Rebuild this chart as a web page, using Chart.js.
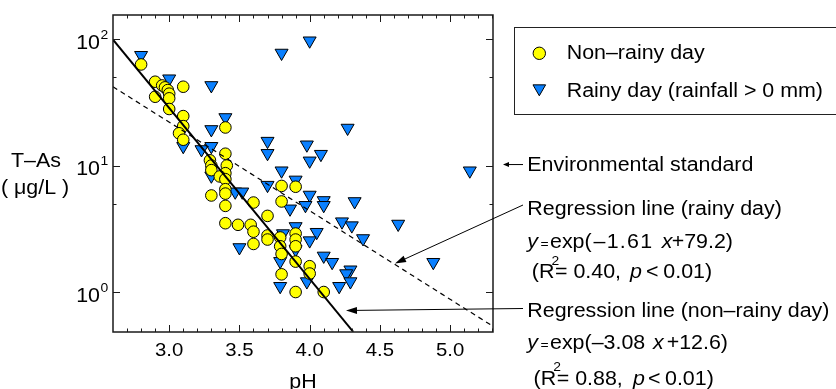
<!DOCTYPE html>
<html><head><meta charset="utf-8">
<script src="https://cdn.jsdelivr.net/npm/chart.js@4/dist/chart.umd.min.js"></script>
<style>html,body{margin:0;padding:0;background:#fff;overflow:hidden;}</style>
</head><body>
<canvas id="c" width="836" height="389"></canvas>
<script>
// ---- data ----
const nonRainyPH = [2.80,2.90,2.95,2.97,2.99,3.00,2.90,3.00,3.10,3.00,3.10,3.10,3.07,3.10,3.40,3.40,3.29,3.30,3.30,3.41,3.40,3.36,3.40,3.40,3.40,3.30,3.40,3.60,3.80,3.90,3.80,3.70,3.40,3.49,3.58,3.60,3.60,3.70,3.70,3.79,3.79,3.80,3.90,3.90,3.90,3.90,3.80,4.00,4.00,3.90,4.10];
const nonRainyAs = [63,46,43,41.5,39.5,37,35,34,42,28,24.6,20.5,18,16,20,12.4,11.0,10.0,9.2,10.0,8.7,8.2,7.8,6.5,6.0,5.8,4.8,5.1,6.9,6.8,5.2,4.0,3.5,3.4,3.4,3.0,2.4,2.8,2.6,2.7,2.3,2.0,2.9,2.6,2.3,1.74,1.38,1.6,1.4,1.0,1.0];
const rainyPH = [2.80,3.00,3.30,3.80,4.00,3.40,3.30,3.70,3.70,3.10,3.23,3.30,3.98,4.08,4.00,4.27,5.14,3.80,3.90,3.70,3.30,3.47,3.52,3.86,4.00,3.97,4.10,4.10,4.32,4.23,4.30,4.63,4.38,4.05,4.00,3.90,3.81,3.50,3.90,3.79,4.10,4.16,4.29,4.26,4.29,4.21,3.98,3.79,4.88];
const rainyAs = [74.5,48.6,43,77.6,97,24,19.3,15.6,12.5,14.2,13.4,14.2,14.6,12.3,10.9,19.8,9.1,9.1,7.7,7.0,8.3,6.2,6.2,4.55,5.85,4.85,5.3,4.85,5.2,3.6,3.35,3.45,2.65,2.97,2.55,3.3,2.9,2.25,2.17,1.75,1.93,1.72,1.5,1.4,1.21,1.11,1.21,1.11,1.72];
const regNonRainyPH = [2.60, 4.31];
const regNonRainyAs = [99, 0.485];
const regRainyPH = [2.60, 5.30];
const regRainyAs = [42, 0.54];
const envStandard = 10;
const seriesLabels = ['Non\u2013rainy day', 'Rainy day (rainfall > 0 mm)'];
const xTickValues = [3.0, 3.5, 4.0, 4.5, 5.0];
const xTickLabels = ['3.0', '3.5', '4.0', '4.5', '5.0'];
const xMinorTicks = [2.7,2.8,2.9,3.1,3.2,3.3,3.4,3.6,3.7,3.8,3.9,4.1,4.2,4.3,4.4,4.6,4.7,4.8,4.9,5.1,5.2,5.3];
const yTickValues = [1, 10, 100];
const yTickExponents = ['0', '1', '2'];
const yMinorTicks = [5, 50];
const xTitle = 'pH';
const yTitle = ['T\u2013As', '( \u03bcg/L )'];

// ---- styles ----
const FONT = '"Liberation Sans", Arial, Helvetica, sans-serif';
const SX = 1.07;
const YELLOW = '#ffff00';
const BLUE = '#0a80ff';

function T(ctx, s, x, y, size, opt) {
  opt = opt || {};
  ctx.save();
  ctx.font = (opt.italic ? 'italic ' : '') + size + 'px ' + FONT;
  ctx.fillStyle = '#000';
  ctx.textBaseline = 'alphabetic';
  ctx.textAlign = 'left';
  if (opt.ls) ctx.letterSpacing = opt.ls + 'px';
  const sx = opt.sx === undefined ? SX : opt.sx;
  const w = ctx.measureText(s).width * sx;
  let x0 = x;
  if (opt.align === 'center') x0 = x - w / 2;
  else if (opt.align === 'right') x0 = x - w;
  ctx.translate(x0, y);
  ctx.scale(sx, 1);
  ctx.fillText(s, 0, 0);
  ctx.restore();
  return x0 + w;
}
function arrow(ctx, x1, y1, x2, y2, hl, hw) {
  const a = Math.atan2(y2 - y1, x2 - x1);
  const c = Math.cos(a), s = Math.sin(a);
  ctx.save();
  ctx.strokeStyle = '#000'; ctx.fillStyle = '#000'; ctx.lineWidth = 1;
  ctx.beginPath(); ctx.moveTo(x1, y1); ctx.lineTo(x2 - c * hl * 0.7, y2 - s * hl * 0.7); ctx.stroke();
  ctx.beginPath();
  ctx.moveTo(x2, y2);
  ctx.lineTo(x2 - c * hl - s * hw, y2 - s * hl + c * hw);
  ctx.lineTo(x2 - c * hl + s * hw, y2 - s * hl - c * hw);
  ctx.closePath(); ctx.fill();
  ctx.restore();
}
function circleMark(ctx, x, y, r) {
  ctx.save(); ctx.beginPath(); ctx.arc(x, y, r, 0, Math.PI * 2);
  ctx.fillStyle = YELLOW; ctx.fill(); ctx.lineWidth = 1; ctx.strokeStyle = '#000'; ctx.stroke(); ctx.restore();
}
function triMark(ctx, x, y, r) {
  ctx.save(); ctx.beginPath();
  ctx.moveTo(x, y + r);
  ctx.lineTo(x - r * Math.sin(Math.PI / 3), y - r / 2);
  ctx.lineTo(x + r * Math.sin(Math.PI / 3), y - r / 2);
  ctx.closePath();
  ctx.fillStyle = BLUE; ctx.fill(); ctx.lineWidth = 1; ctx.strokeStyle = '#000'; ctx.stroke(); ctx.restore();
}

const decor = {
  id: 'decor',
  afterDraw(chart) {
    const ctx = chart.ctx;
    const xs = chart.scales.x, ys = chart.scales.y;
    const { left, right, top, bottom } = chart.chartArea;
    ctx.save();
    // frame
    ctx.strokeStyle = '#1a1a1a';
    ctx.lineWidth = 1.5;
    ctx.strokeRect(left, top, right - left, bottom - top);
    ctx.lineWidth = 1;
    ctx.beginPath();
    xTickValues.forEach(v => {
      const p = Math.round(xs.getPixelForValue(v)) + 0.5;
      ctx.moveTo(p, bottom); ctx.lineTo(p, bottom - 7);
      ctx.moveTo(p, top); ctx.lineTo(p, top + 7);
    });
    xMinorTicks.forEach(v => {
      const p = Math.round(xs.getPixelForValue(v)) + 0.5;
      ctx.moveTo(p, bottom); ctx.lineTo(p, bottom - 3.5);
      ctx.moveTo(p, top); ctx.lineTo(p, top + 3.5);
    });
    yTickValues.forEach(v => {
      const p = Math.round(ys.getPixelForValue(v)) + 0.5;
      ctx.moveTo(left, p); ctx.lineTo(left + 7, p);
      ctx.moveTo(right, p); ctx.lineTo(right - 7, p);
    });
    yMinorTicks.forEach(v => {
      const p = Math.round(ys.getPixelForValue(v)) + 0.5;
      ctx.moveTo(left, p); ctx.lineTo(left + 3.5, p);
      ctx.moveTo(right, p); ctx.lineTo(right - 3.5, p);
    });
    ctx.stroke();
    ctx.restore();

    // x tick labels
    xTickValues.forEach((v, i) => {
      T(ctx, xTickLabels[i], xs.getPixelForValue(v), bottom + 24, 19, { align: 'center' });
    });
    // y tick labels 10^n
    yTickValues.forEach((v, i) => {
      const p = ys.getPixelForValue(v);
      T(ctx, '10', 100, p + 9.5, 20, { align: 'right' });
      T(ctx, yTickExponents[i], 100.5, p - 0.5, 13);
    });
    // axis titles
    T(ctx, xTitle, (left + right) / 2, 388, 20, { align: 'center' });
    T(ctx, yTitle[0], 36, 166.5, 20, { align: 'center' });
    T(ctx, yTitle[1], 35, 194, 20, { align: 'center' });

    // legend box
    ctx.save();
    ctx.strokeStyle = '#222'; ctx.lineWidth = 1;
    ctx.strokeRect(514.5, 27.5, 330, 87);
    ctx.restore();
    circleMark(ctx, 539.3, 53.3, 6.2);
    triMark(ctx, 539.3, 88.5, 7.3);
    T(ctx, seriesLabels[0], 566.7, 59.2, 20);
    T(ctx, seriesLabels[1], 566.7, 97.3, 20);

    // environmental standard
    const ey = ys.getPixelForValue(envStandard);
    arrow(ctx, 523, ey - 1, right + 10, ey - 1, 6, 2.5);
    T(ctx, 'Environmental standard', 527.3, 170.7, 20);

    // regression (rainy)
    arrow(ctx, 523, 205, 395, 263.5, 11, 3.5);
    T(ctx, 'Regression line (rainy day)', 527.3, 215, 20);
    T(ctx, 'y', 527.3, 247.5, 20, { italic: true });
    T(ctx, '=', 540.5, 248, 13);
    T(ctx, 'exp(', 550, 247.5, 20);
    T(ctx, '\u20131.61', 593.5, 247.5, 20, { ls: 1.2 });
    T(ctx, 'x', 661.7, 247.5, 20, { italic: true });
    T(ctx, '+79.2)', 671.7, 247.5, 20);
    T(ctx, '(R', 531.8, 278.3, 20);
    T(ctx, '2', 551.5, 264.8, 13);
    T(ctx, '= 0.40,', 555, 278.3, 20);
    T(ctx, 'p', 630, 278.3, 20, { italic: true });
    T(ctx, '<', 646, 278.3, 20);
    T(ctx, '0.01)', 663.3, 278.3, 20);

    // regression (non-rainy)
    arrow(ctx, 523, 308.5, 346, 310.5, 11, 3.5);
    T(ctx, 'Regression line (non\u2013rainy day)', 527.3, 316.7, 20);
    T(ctx, 'y', 527.3, 348.5, 20, { italic: true });
    T(ctx, '=', 540.5, 349, 13);
    T(ctx, 'exp(\u20133.08', 550, 348.5, 20);
    T(ctx, 'x', 653, 348.5, 20, { italic: true });
    T(ctx, '+12.6)', 666.7, 348.5, 20);
    T(ctx, '(R', 533.5, 384.5, 20);
    T(ctx, '2', 553.2, 371, 13);
    T(ctx, '= 0.88,', 556.7, 384.5, 20);
    T(ctx, 'p', 633, 384.5, 20, { italic: true });
    T(ctx, '<', 648, 384.5, 20);
    T(ctx, '0.01)', 665, 384.5, 20);
  }
};

const pts = (xa, ya) => xa.map((x, i) => ({ x: x, y: ya[i] }));

new Chart(document.getElementById('c'), {
  type: 'scatter',
  data: {
    datasets: [
      { label: 'Regression line (non\u2013rainy day)', data: pts(regNonRainyPH, regNonRainyAs), showLine: true,
        borderColor: '#000', borderWidth: 2, pointRadius: 0, pointHoverRadius: 0, fill: false, order: 0 },
      { label: 'Regression line (rainy day)', data: pts(regRainyPH, regRainyAs), showLine: true,
        borderColor: '#000', borderWidth: 1.2, borderDash: [5, 4], pointRadius: 0, pointHoverRadius: 0, fill: false, order: 1 },
      { label: seriesLabels[0], data: pts(nonRainyPH, nonRainyAs), pointStyle: 'circle', pointRadius: 5.8,
        backgroundColor: YELLOW, borderColor: '#000', borderWidth: 1, order: 2 },
      { label: seriesLabels[1], data: pts(rainyPH, rainyAs), pointStyle: 'triangle', pointRotation: 180, pointRadius: 7.5,
        backgroundColor: BLUE, borderColor: '#000', borderWidth: 1, order: 3 }
    ]
  },
  options: {
    responsive: false, animation: false, devicePixelRatio: 1, events: [],
    layout: { padding: { left: 113, right: 343, top: 15, bottom: 57 } },
    plugins: { legend: { display: false }, tooltip: { enabled: false } },
    scales: {
      x: { type: 'linear', min: 2.6, max: 5.305, display: false },
      y: { type: 'logarithmic', min: 0.483, max: 155, display: false }
    }
  },
  plugins: [decor]
});
</script>
</body></html>
